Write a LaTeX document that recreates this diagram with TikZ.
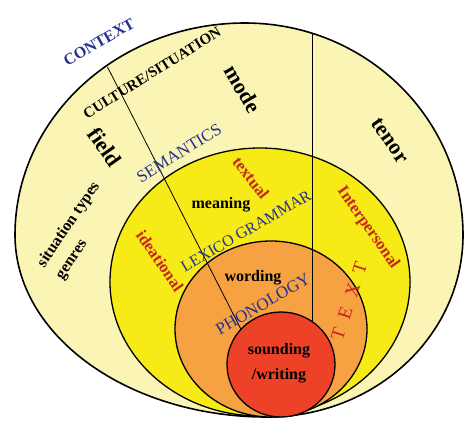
\documentclass[tikz,border=0pt]{standalone}
\usepackage{fontspec}
\setmainfont{Liberation Serif}
\definecolor{pale}{HTML}{FAF5B4}
\definecolor{lemon}{HTML}{F6EA17}
\definecolor{peach}{HTML}{F6A142}
\definecolor{scarlet}{HTML}{EE4228}
\definecolor{navy}{HTML}{24318F}
\definecolor{brick}{HTML}{C8261C}

\begin{document}
\begin{tikzpicture}[x=1pt,y=-1pt,
  ring/.style={draw=black,line width=1.3pt},
  layer/.style={navy,font=\fontsize{17}{17}\selectfont},
  func/.style={brick,font=\fontsize{16.5}{16.5}\selectfont\bfseries},
  word/.style={font=\fontsize{16}{16}\selectfont\bfseries},
  var/.style={font=\fontsize{22}{22}\selectfont\bfseries}]
  \useasboundingbox (0,0) rectangle (474,434);
  % context
  \filldraw[fill=pale,line width=1.6pt] (15,235)
    arc[start angle=180,end angle=270,x radius=230,y radius=212]
    arc[start angle=270,end angle=360,x radius=218,y radius=212]
    arc[start angle=0,end angle=90,x radius=196,y radius=182]
    arc[start angle=90,end angle=180,x radius=252,y radius=182] -- cycle;
  % semantics, lexicogrammar
  \filldraw[ring,fill=lemon] (260,282) ellipse [x radius=150,y radius=134];
  \filldraw[ring,fill=peach] (271,329) ellipse [x radius=96,y radius=88];
  % dividers
  \coordinate (vtop) at (312,33.3);
  \coordinate (vbot) at (312,364);
  \coordinate (stop) at (107.5,67);
  \coordinate (sbot) at (250.5,348);
  \draw[line width=.8pt] (vtop) -- (vbot);
  \draw[line width=.8pt] (stop) -- (sbot);
  % phonology
  \filldraw[ring,fill=scarlet] (281,364.5) ellipse [x radius=54,y radius=52.5];
  % labels
  \node[navy,font=\fontsize{16}{16}\selectfont\bfseries,rotate=30] (context) at (99,42) {CONTEXT};
  \node[font=\fontsize{15}{15}\selectfont\bfseries,rotate=32] (culture) at (152,73) {CULTURE/SITUATION};
  \node[var,rotate=-60] (mode) at (243,89) {mode};
  \node[var,rotate=-55] (tenor) at (390,141) {tenor};
  \node[var,rotate=-55] (field) at (105,147) {field};
  \node[layer,rotate=32] (semantics) at (179,153) {SEMANTICS};
  \node[align=left,rotate=56,font=\fontsize{16}{22}\selectfont\bfseries] (genres) at (78,231) {situation types\\genres};
  \node[func,rotate=-52] (textual) at (251,178) {textual};
  \node[word] (meaning) at (221,205) {meaning};
  \node[layer,font=\fontsize{16}{16}\selectfont,rotate=30] (lexico) at (246,231) {LEXICO GRAMMAR};
  \node[func,rotate=-55] (ideational) at (160,261) {ideational};
  \node[func,rotate=-55] (interpersonal) at (368,228) {Interpersonal};
  \node[word] (wording) at (253,278) {wording};
  \node[layer,rotate=30] (phonology) at (263,304) {PHONOLOGY};
  \node[brick,font=\fontsize{19}{19}\selectfont,rotate=72] (text) at (349,301) {T\hspace{11pt}E\hspace{11pt}X\hspace{11pt}T};
  \node[align=center,font=\fontsize{16}{25}\selectfont\bfseries] (sounding) at (279,363) {sounding\\/writing};
\end{tikzpicture}
\end{document}
